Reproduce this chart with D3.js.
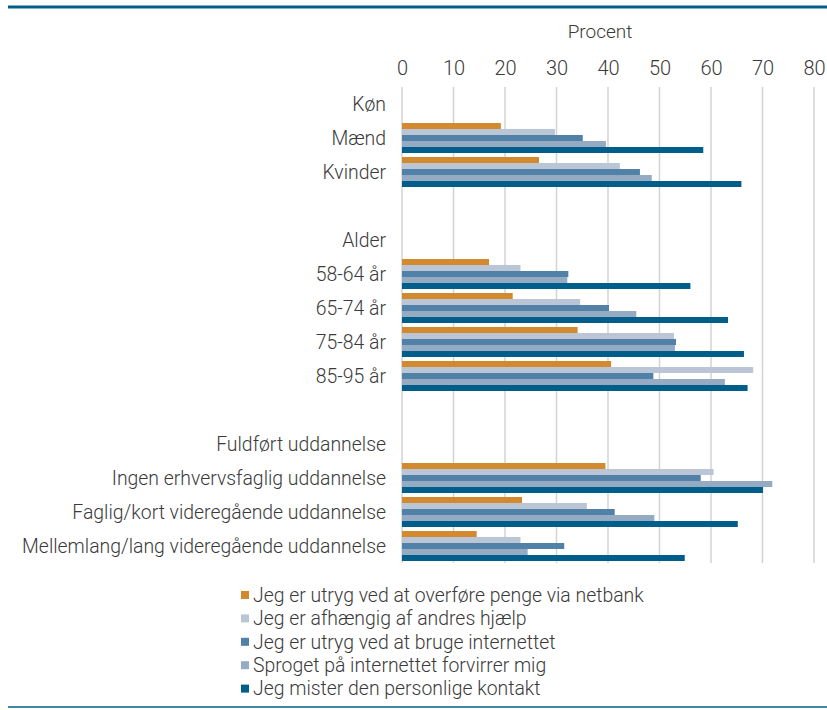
<!DOCTYPE html>
<html>
<head>
<meta charset="utf-8">
<script src="https://cdn.jsdelivr.net/npm/d3@7"></script>
<style>
  body { margin: 0; background: #fff; }
  svg { display: block; }
  text { font-family: Roboto, "Liberation Sans", sans-serif; fill: #3a3a3a; }
</style>
</head>
<body>
<svg id="chart" width="827" height="710"></svg>
<script>
// Rows (headers and blanks included, in display order)
const categories = [
  "Køn", "Mænd", "Kvinder", "",
  "Alder", "58-64 år", "65-74 år", "75-84 år", "85-95 år", " ",
  "Fuldført uddannelse", "Ingen erhvervsfaglig uddannelse",
  "Faglig/kort videregående uddannelse", "Mellemlang/lang videregående uddannelse"
];
const dataRows = [
  "Mænd", "Kvinder", "58-64 år", "65-74 år", "75-84 år", "85-95 år",
  "Ingen erhvervsfaglig uddannelse", "Faglig/kort videregående uddannelse",
  "Mellemlang/lang videregående uddannelse"
];
const seriesNames = [
  "Jeg er utryg ved at overføre penge via netbank",
  "Jeg er afhængig af andres hjælp",
  "Jeg er utryg ved at bruge internettet",
  "Sproget på internettet forvirrer mig",
  "Jeg mister den personlige kontakt"
];
const netbank   = [19.2, 26.6, 16.9, 21.5, 34.1, 40.6, 39.5, 23.3, 14.5];
const hjaelp    = [29.7, 42.3, 23.0, 34.6, 52.8, 68.2, 60.5, 35.9, 23.0];
const internet  = [35.1, 46.2, 32.3, 40.2, 53.2, 48.8, 58.0, 41.3, 31.5];
const sproget   = [39.6, 48.5, 32.1, 45.5, 53.0, 62.7, 71.9, 49.0, 24.4];
const kontakt   = [58.5, 65.9, 56.0, 63.3, 66.4, 67.1, 70.1, 65.2, 54.9];
const tickValues = [0, 10, 20, 30, 40, 50, 60, 70, 80];
const colors = ["#D38A2E", "#BAC5D6", "#5181A7", "#95ABC3", "#005E8B"];

const seriesValues = [netbank, hjaelp, internet, sproget, kontakt];

const svg = d3.select("#chart");
const pLeft = 402, pRight = 814, pTop = 87, pBottom = 563;

const x = d3.scaleLinear().domain([0, 80]).range([pLeft, pRight]);
const y = d3.scaleBand().domain(categories).range([pTop, pBottom]).paddingInner(0.118).paddingOuter(0.059);
const ySub = d3.scaleBand().domain(d3.range(5)).range([0, y.bandwidth()]);

// top and bottom rules
svg.append("line").attr("x1", 8).attr("x2", 827).attr("y1", 7).attr("y2", 7)
  .attr("stroke", "#005E8B").attr("stroke-width", 3);
svg.append("line").attr("x1", 8).attr("x2", 827).attr("y1", 707).attr("y2", 707)
  .attr("stroke", "#005E8B").attr("stroke-width", 1.5);

// gridlines
svg.append("g").selectAll("line").data(tickValues).join("line")
  .attr("x1", d => x(d)).attr("x2", d => x(d))
  .attr("y1", pTop).attr("y2", pBottom)
  .attr("stroke", "#d3d3d3").attr("stroke-width", 1.5);

// top axis labels
const axis = d3.axisTop(x).tickValues(tickValues).tickSize(0).tickPadding(0);
const ag = svg.append("g").attr("transform", `translate(0,${75})`).call(axis);
ag.select(".domain").remove();
ag.selectAll("text").style("font-size", "20px").style("font-weight", 300)
  .style("font-family", "Roboto, sans-serif").attr("fill", "#3a3a3a");

svg.append("text").attr("x", 600).attr("y", 38).attr("text-anchor", "middle")
  .style("font-size", "19px").style("font-weight", 300).text("Procent");

// category labels
svg.append("g").selectAll("text").data(categories).join("text")
  .attr("x", 386).attr("y", d => y(d) + y.bandwidth() / 2)
  .attr("dy", "0.35em").attr("text-anchor", "end")
  .style("font-size", "19.4px").style("font-weight", 300)
  .text(d => d.trim());

// bars
const bars = svg.append("g");
dataRows.forEach((row, i) => {
  seriesValues.forEach((vals, s) => {
    bars.append("rect")
      .attr("x", x(0))
      .attr("y", y(row) + ySub(s))
      .attr("width", x(vals[i]) - x(0))
      .attr("height", ySub.bandwidth())
      .attr("fill", colors[s]);
  });
});

// legend
const lg = svg.append("g");
seriesNames.forEach((name, s) => {
  const cy = 595 + s * 23.4;
  lg.append("rect").attr("x", 241).attr("y", cy - 4).attr("width", 8).attr("height", 8).attr("fill", colors[s]);
  lg.append("text").attr("x", 253).attr("y", cy).attr("dy", "0.35em")
    .style("font-size", "19.4px").style("font-weight", 300).text(name);
});
</script>
</body>
</html>
